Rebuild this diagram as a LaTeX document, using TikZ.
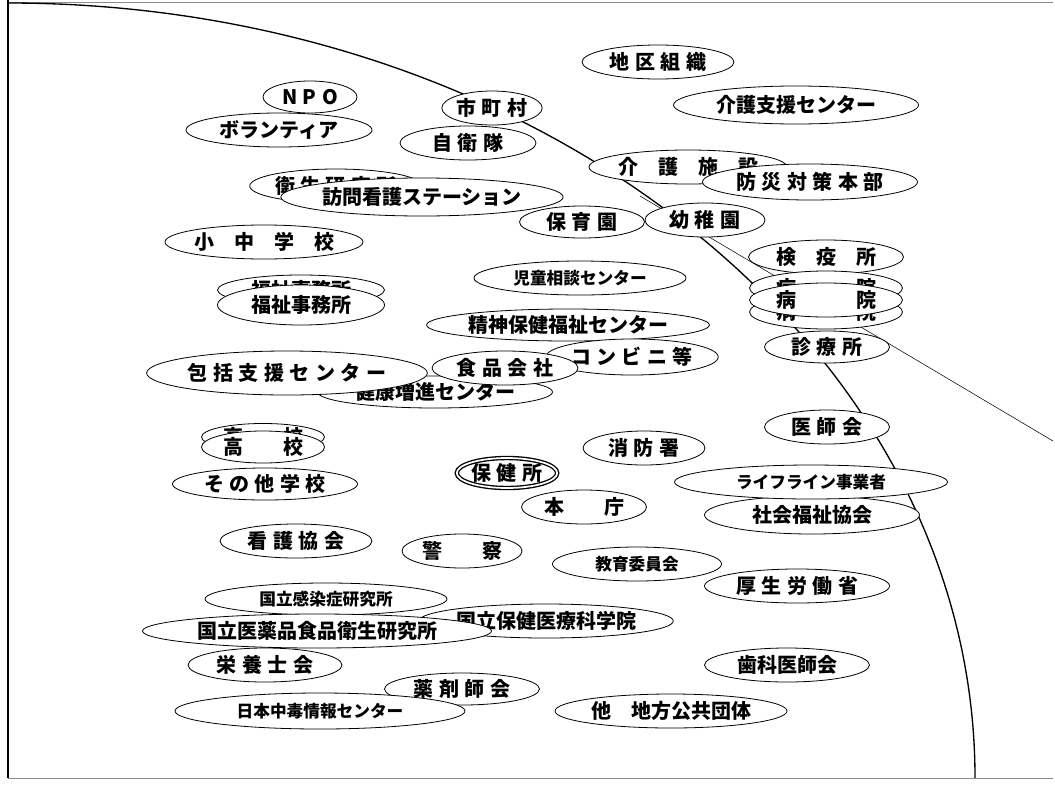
\documentclass[tikz,border=0pt]{standalone}
\usepackage{fontspec}
\newfontfamily\jp{Noto Sans CJK JP}[WordSpace=1.2]
\usetikzlibrary{shapes.geometric, positioning}

\begin{document}
\begin{tikzpicture}[
  x=0.75pt, y=-0.75pt,
  org/.style={ellipse, draw, fill=white, line width=0.6pt, inner sep=0pt,
              font=\jp\bfseries\fontsize{15}{17}\selectfont},
  sm/.style={font=\jp\bfseries\fontsize{12.5}{15}\selectfont},
  sz/.style 2 args={minimum width=#1*0.75pt, minimum height=#2*0.75pt},
  main/.style={org, double, line width=1pt, double distance=1.3pt},
  frame/.style={draw=black!45, line width=0.5pt},
  ring/.style={line width=1pt},
  thinline/.style={line width=0.4pt}
]
  \useasboundingbox (0,0) rectangle (1055,785);

  % frame and boundary arc
  \draw[frame] (8,2) -- (1053,2);
  \draw[frame] (8,778) -- (1053,778);
  \draw[line width=0.8pt] (8,0) -- (8,778);
  \draw[ring] (8,3) arc[start angle=-90, end angle=0, x radius=967, y radius=775];
  \coordinate (k0) at (640,196);
  \coordinate (k1) at (1053,441);
  \draw[thinline] (k0) -- (k1);

  % top rows
  \node[org, sz={152}{34}] (chiku) at (658,62) {地 区 組 織};
  \node[org, sz={94}{32}] (npo) at (310,97) {N P O};
  \node[org, sz={245}{38}] (kaigoshien) at (796,105) {介護支援センター};
  \node[org, sz={96}{34}] (shichoson) at (492,108) {市 町 村};
  \node[org, sz={186}{34}] (volunteer) at (279,130) {ボランティア};
  \node[org, sz={136}{34}] (jieitai) at (468,143) {自 衛 隊};
  \node[org, sz={183}{34}] (kaigoshisetsu) at (688,167) {介　護　施　設};
  \node[org, sz={215}{36}] (bousai) at (810,182) {防 災 対 策 本 部};
  \node[org, sz={162}{34}] (eiken) at (336,186) {衛 生 研 究 所};
  \node[org, sz={260}{38}] (houmon) at (422,197) {訪問看護ステーション};
  \node[org, sz={125}{32}] (hoikuen) at (582,222) {保 育 園};
  \node[org, sz={120}{34}] (youchien) at (705,220) {幼 稚 園};
  \node[org, sz={184}{34}] (shochu) at (264,242) {小　中　学　校};
  \node[org, sz={155}{34}] (keneki) at (826,257) {検　疫　所};
  \node[org, sm, sz={212}{34}] (jido) at (580,278) {児童相談センター};

  % hospital and welfare office stacks
  \node[org, sz={153}{34}] (byoin1) at (826,288) {病　　　院};
  \node[org, sz={153}{34}] (byoin3) at (826,312) {病　　　院};
  \node[org, sz={153}{34}] (byoin2) at (826,300) {病　　　院};
  \node[org, sz={167}{30}] (fukushi0) at (301,290) {福祉事務所};
  \node[org, sz={167}{40}] (fukushi) at (301,305) {福祉事務所};

  \node[org, sz={260}{32}] (seishin) at (568,325) {精神保健福祉センター};
  \node[org, sz={125}{32}] (shinryo) at (827,347) {診 療 所};
  \node[org, sz={235}{32}] (kenko) at (435,392) {健康増進センター};
  \node[org, sz={160}{36}] (conveni) at (632,357) {コ ン ビ ニ 等};
  \node[org, sz={146}{34}] (shokuhin) at (505,368) {食 品 会 社};
  \node[org, sz={261}{44}] (houkatsu) at (287,373) {包 括 支 援 セ ン タ ー};

  % middle rows
  \node[org, sz={125}{34}] (ishikai) at (827,427) {医 師 会};
  \node[org, sz={123}{26}] (koko0) at (263,437) {高　　校};
  \node[org, sz={123}{32}] (koko) at (263,447) {高　　校};
  \node[org, sz={122}{34}] (shobo) at (644,448) {消 防 署};
  \node[main, sz={98}{30}] (hokenjo) at (507,473) {保 健 所};
  \node[org, sz={185}{32}] (sonota) at (265,484) {そ の 他 学 校};
  \node[org, sz={215}{38}] (shakyo) at (812,515) {社会福祉協会};
  \node[org, sm, sz={273}{34}] (lifeline) at (811,482) {ライフライン事業者};
  \node[org, sz={125}{34}] (honcho) at (584,507) {本　　庁};
  \node[org, sz={152}{34}] (kango) at (296,541) {看 護 協 会};
  \node[org, sz={120}{34}] (keisatsu) at (462,551) {警　　察};
  \node[org, sm, sz={169}{34}] (kyoiku) at (637,564) {教育委員会};
  \node[org, sz={185}{34}] (kosei) at (797,586) {厚 生 労 働 省};

  % bottom rows
  \node[org, sm, sz={242}{32}] (kansen) at (326,599) {国立感染症研究所};
  \node[org, sz={252}{34}] (kagakuin) at (546,621) {国立保健医療科学院};
  \node[org, sz={349}{34}] (iyaku) at (317,631) {国立医薬品食品衛生研究所};
  \node[org, sz={154}{34}] (eiyo) at (265,665) {栄 養 士 会};
  \node[org, sz={165}{34}] (shika) at (787,665) {歯科医師会};
  \node[org, sz={155}{32}] (yakuzai) at (462,689) {薬 剤 師 会};
  \node[org, sm, sz={290}{36}] (chudoku) at (320,711) {日本中毒情報センター};
  \node[org, sz={232}{34}] (chiho) at (671,711) {他　地方公共団体};
\end{tikzpicture}
\end{document}
